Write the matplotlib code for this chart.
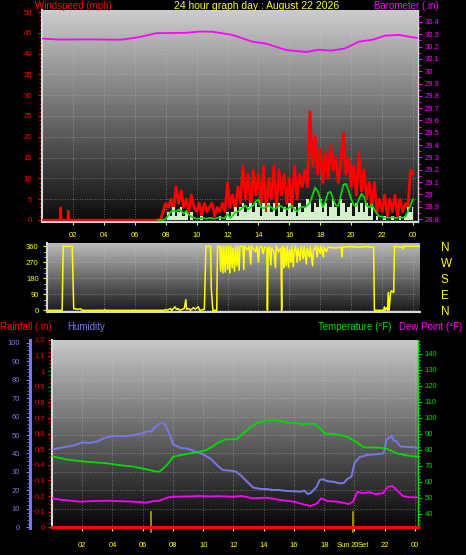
import numpy as np
import matplotlib
matplotlib.use('Agg')
import matplotlib.pyplot as plt
from matplotlib.ticker import MultipleLocator, FixedLocator
from matplotlib.transforms import blended_transform_factory

plt.rcParams['font.family'] = ['Liberation Sans', 'DejaVu Sans']

# ---------------- data ----------------
hour_ticks = [2, 4, 6, 8, 10, 12, 14, 16, 18, 20, 22, 24]
hour_labels = ['02', '04', '06', '08', '10', '12', '14', '16', '18', '20', '22', '00']

# barometer (in)
baro_t = [0, 1.1, 3, 5, 5.2, 6.3, 7.4, 9.3, 10.2, 11.0, 12.3, 13.6, 14.5, 15.8, 17.1, 17.9,
          18.7, 19.6, 20.5, 21.4, 22.2, 23.1, 24.0, 24.3]
baro_v = [30.265, 30.257, 30.258, 30.256, 30.257, 30.277, 30.309, 30.312, 30.322, 30.321,
          30.295, 30.240, 30.224, 30.172, 30.156, 30.175, 30.167, 30.185, 30.240, 30.256,
          30.289, 30.295, 30.275, 30.27]

# windspeed before the wind picked up (mph)
calm_t = [0, 1.15, 1.2, 1.25, 1.65, 1.7, 1.75, 7.4]
calm_v = [0, 0, 3, 0, 0, 2.2, 0, 0]

# 10 minute samples from 07:30 to 24:00
gust_v = [0, 0, 2,
          4, 3, 5, 2, 8, 4,
          7, 3, 5, 2, 6, 3,
          2, 4, 1, 4, 2, 3,
          4, 1, 3, 2, 4, 2,
          9, 3, 6, 2, 8, 4,
          13, 5, 11, 3, 12, 6,
          11, 4, 13, 2, 10, 5,
          13, 3, 12, 6, 11, 4,
          10, 3, 13, 5, 11, 8,
          12, 8, 26, 13, 20, 11,
          17, 9, 16, 10, 18, 12,
          15, 9, 14, 21, 11, 15,
          8, 13, 6, 16, 7, 12,
          5, 9, 3, 9, 2, 5,
          2, 6, 1, 5, 2, 6,
          1, 5, 2, 4, 3, 12,
          11]
avg_v = [0, 0, 0,
         0.3, 1, 2, 2.2, 2, 2.5,
         2.2, 1.5, 2.2, 1.2, 0.8, 0.5,
         0.3, 0.3, 0.5, 0.4, 0.3, 0.5,
         0.4, 0.3, 0.5, 0.6, 0.5, 0.4,
         1.5, 0.5, 1, 1.8, 2, 2.5,
         3, 3.5, 2.5, 3, 3.5, 4.5,
         4.9, 3, 2.8, 3, 3.5, 3,
         2.5, 2.8, 3.5, 3.2, 2.8, 2.5,
         3, 3.4, 2.5, 2, 2.8, 3.2,
         3, 3.5, 4.2, 6, 7.8, 7,
         5, 3, 4.5, 6.5, 6.8, 5,
         3.5, 3.4, 6, 8.5, 8.7, 7,
         5, 3.5, 3.4, 5, 6.3, 5.5,
         3.5, 3, 3.8, 2.5, 1.5, 0.8,
         0.8, 0.5, 0.6, 0.5, 0.7, 0.5,
         0.5, 0.6, 0.5, 0.8, 2, 3.5,
         5]
speed_v = [0, 0, 0,
           0, 2, 1, 3, 1, 2,
           3, 1, 2, 0, 2, 0,
           0, 0, 1, 0, 0, 0,
           0, 0, 0, 1, 0, 0,
           2, 1, 2, 3, 1, 3,
           4, 2, 3, 4, 2, 4,
           3, 1, 4, 2, 4, 2,
           4, 1, 4, 2, 3, 1,
           4, 2, 3, 1, 4, 2,
           3, 5, 4, 2, 4, 3,
           5, 2, 4, 1, 3, 5,
           3, 1, 5, 4, 2, 3,
           4, 1, 4, 2, 4, 2,
           4, 1, 3, 0, 1, 0,
           0, 1, 0, 0, 1, 0,
           0, 1, 0, 1, 3, 2,
           3]
late_t = np.arange(len(gust_v)) / 6.0 + 7.5

# wind direction (deg)
dir_t = [0, 1.3, 1.37, 1.95, 2.05, 2.3, 2.5, 2.6, 4.0, 4.05, 4.1, 7.9, 8.0, 8.1, 8.3, 8.4,
         8.6, 8.7, 8.8, 8.9, 9.2, 9.3, 9.35, 9.5, 9.6, 9.8, 9.9, 10.1, 10.2, 10.5, 10.6,
         10.9, 10.95, 11.0, 11.05, 11.3, 11.35,
         11.5, 11.55, 11.6, 11.7, 11.75, 11.85, 11.9, 12.0, 12.05, 12.15, 12.2, 12.3, 12.35,
         12.45, 12.5, 12.6, 12.65, 12.75, 12.8,
         13.0, 13.05, 13.1, 13.3, 13.4, 13.5, 13.55, 13.8, 13.9, 14.0, 14.05, 14.2, 14.3,
         14.4, 14.55, 14.58, 14.62,
         14.7, 14.8, 14.85, 15.0, 15.1, 15.15, 15.3, 15.45, 15.5, 15.53,
         15.6, 15.65, 15.7, 15.8, 15.85, 15.95, 16.0, 16.1, 16.15, 16.25, 16.3,
         16.4, 16.5, 16.55, 16.7, 16.75, 16.9, 16.95, 17.1, 17.15, 17.3, 17.35, 17.5, 17.55,
         17.7, 17.8, 17.85, 18.0, 18.05, 18.2, 18.25, 18.4,
         18.5, 19.0, 19.35, 19.4, 19.45, 20.0, 20.5, 21.0, 21.45, 21.5, 22.1, 22.15, 22.2,
         22.3, 22.35, 22.4, 22.45, 22.55, 22.6, 22.75, 22.8, 23.3, 23.35, 23.4, 24.0, 24.5]
dir_v = [0, 0, 360, 360, 10, 5, 8, 0, 0, 5, 0, 0, 5, 0, 10, 0,
         20, 5, 10, 0, 10, 60, 5, 10, 0, 15, 5, 20, 0, 5, 360,
         360, 120, 60, 0, 0, 360,
         360, 220, 360, 210, 360, 215, 360, 230, 360, 210, 360, 240, 350,
         220, 360, 250, 360, 225, 360,
         360, 230, 360, 340, 360, 260, 360, 330, 360, 270, 350, 360, 320,
         355, 350, 0, 340,
         360, 255, 350, 330, 240, 360, 330, 350, 0, 300,
         360, 240, 350, 250, 360, 240, 340, 270, 360, 245, 330,
         360, 270, 350, 280, 360, 290, 360, 260, 350, 300, 360, 250, 340,
         360, 300, 360, 320, 360, 300, 355, 330,
         355, 350, 355, 300, 355, 358, 355, 358, 355, 0, 0, 20, 0,
         15, 0, 100, 0, 100, 110, 100, 360, 355, 345, 360, 360, 360]

# humidity (%)
hum_t = [0, 0.5, 1.0, 1.5, 2.0, 2.5, 3.0, 3.5, 4.0, 4.5, 5.0, 5.5, 6.0, 6.3, 6.6, 6.8, 7.1,
         7.3, 7.5, 7.8, 8.0, 8.5, 9.0, 9.5, 10.0, 10.5, 11.0, 11.3, 12.0, 12.2, 12.5, 12.9,
         13.3, 13.8, 14.2, 14.6, 15.0, 15.5, 16.0, 16.4, 16.7, 16.9, 17.1, 17.3, 17.5, 17.7,
         17.9, 18.2, 18.6, 19.0, 19.3, 19.5, 19.8, 20.0, 20.35, 20.6, 20.8, 21.3, 21.9, 22.0,
         22.1, 22.45, 22.6, 22.8, 23.0, 23.2, 23.6, 24.0, 24.2]
hum_v = [42, 43, 43.7, 44.5, 46, 45.8, 46.5, 48.5, 49.5, 49.5, 49.5, 50, 51, 52, 52, 54.2, 56,
         56.7, 55.4, 50, 45, 43, 42.5, 41, 39.5, 37, 33, 31, 30.5, 30, 28, 24.7,
         21.5, 20.8, 20.7, 20.2, 20.2, 19.7, 19.5, 19.3, 19.8, 18, 18.5, 20.2, 22, 25.6,
         26, 25, 24.7, 23.8, 24, 26, 27.4, 34.7, 38.2, 38.5, 39.2, 39.5, 40, 42,
         47.3, 49.5, 47, 46.4, 44, 43.7, 43.5, 43.3, 43]

# temperature (F)
temp_t = [0, 0.5, 1.0, 1.85, 2.5, 3.6, 4.5, 5.4, 6.26, 6.9, 7.1, 7.3, 7.7, 8.0, 8.9, 9.8,
          10.2, 10.6, 10.9, 11.5, 12.2, 12.9, 13.5, 14.2, 14.85, 15.3, 15.7, 16.2, 16.6, 17.3,
          17.7, 18.0, 18.8, 19.5, 20.1, 20.6, 21.5, 22.1, 22.8, 23.5, 24.2]
temp_v = [76.2, 75, 74, 73.1, 72.5, 71.7, 70.5, 69.6, 67.9, 66.5, 66.5, 68, 71.7, 75.8, 77.5, 79,
          80, 82, 84.2, 86.7, 86.7, 92.5, 96.7, 98.7, 98.7, 97.7, 96.7, 97, 96, 96.7,
          93.9, 90.4, 89.8, 88.3, 85.2, 81.7, 81.5, 81, 77.9, 76.5, 75.8]

# dew point (F)
dew_t = [0, 0.5, 1.0, 1.85, 2.5, 3.6, 4.5, 5.4, 6.26, 6.7, 7.0, 7.6, 8.0, 9.0, 9.8, 10.5,
         11.0, 12.0, 12.5, 13.3, 14.2, 15.1, 16.0, 16.6, 17.1, 17.5, 17.8, 18.2, 18.9, 19.6,
         19.9, 20.2, 20.5, 21.0, 21.4, 21.9, 22.2, 22.5, 22.8, 23.2, 23.6, 24.2]
dew_v = [49.8, 49, 48.5, 47.7, 48, 48.3, 48, 47.7, 47.1, 48.1, 48, 50.2, 50.8, 51, 51.25, 51,
         51.2, 50.8, 51.3, 49.8, 50.2, 48.75, 47.7, 46.1, 45, 46.5, 49.8, 48.1, 47.7, 46.25,
         47.7, 54, 53, 53.5, 52.5, 53, 57.1, 57.5, 55, 51.25, 50.5, 50.4]

# rainfall (in)
rain_t = [0, 24.2]
rain_v = [0, 0]

sunrise = 6.55
sunset = 19.87

W, H = 466.0, 555.0
RED = '#ff0000'
YEL = '#ffff00'
MAG = '#ff00ff'
GRN = '#00dd00'
BLU = '#7878e8'
BORDER = '#d8d8d8'


def rect(x0, y0, x1, y1):
    return [x0 / W, 1 - y1 / H, (x1 - x0) / W, (y1 - y0) / H]


def gradient(ax, top, bottom):
    g = np.linspace(top, bottom, 256).reshape(-1, 1)
    ax.imshow(g, cmap='gray', vmin=0, vmax=1, aspect='auto', extent=[0, 1, 0, 1],
              transform=ax.transAxes, zorder=0, interpolation='bilinear')


def grid(ax, axis='both'):
    ax.grid(True, axis=axis, color='#d0d0d0', linestyle=(0, (1, 2)), linewidth=0.6, alpha=0.55)


def clean(ax):
    for s in ax.spines.values():
        s.set_visible(False)


fig = plt.figure(figsize=(W / 100, H / 100), dpi=100, facecolor='black')

fig.text(35 / W, 1 - 6 / H, 'Windspeed (mph)', color=RED, fontsize=7, va='center', ha='left')
fig.text(257 / W, 1 - 6 / H, '24 hour graph day : August 22 2026', color=YEL, fontsize=7.5,
         va='center', ha='center')
fig.text(439 / W, 1 - 6 / H, 'Barometer (.in)', color=MAG, fontsize=7, va='center', ha='right')

# ---------------- wind / barometer ----------------
ax1 = fig.add_axes(rect(42, 10, 418, 222))
gradient(ax1, 0.80, 0.04)
ax1.set_xlim(0, 24.32)
ax1.set_ylim(-0.5, 50.5)
ax1.plot(calm_t, calm_v, color=RED, lw=1.6, zorder=3)
ax1.plot(late_t, gust_v, color=RED, lw=2.0, zorder=3)
ax1.fill_between(late_t, speed_v, step='mid', color='#d4f0cc', lw=0, zorder=4)
ax1.plot([0, 7.5], [0, 0], color='#c8f0c0', lw=1.0, zorder=2)
ax1.plot(late_t, avg_v, color='#00e000', lw=1.2, zorder=5)
ax1.xaxis.set_major_locator(FixedLocator(hour_ticks))
ax1.set_xticklabels(hour_labels)
ax1.yaxis.set_major_locator(MultipleLocator(5))
ax1.yaxis.set_minor_locator(MultipleLocator(1))
ax1.tick_params(axis='x', colors=YEL, labelsize=5.5, length=2, pad=5)
ax1.tick_params(axis='y', which='both', colors=RED, labelsize=5.5, length=3, pad=4)
ax1.tick_params(axis='y', which='minor', length=2)
grid(ax1)
clean(ax1)
for s in ['left', 'bottom']:
    ax1.spines[s].set_visible(True)
    ax1.spines[s].set_color(BORDER)
    ax1.spines[s].set_linewidth(1.5)

ax1b = ax1.twinx()
ax1b.set_ylim(28.776, 30.497)
ax1b.plot(baro_t, baro_v, color=MAG, lw=1.3, zorder=6)
ax1b.yaxis.set_minor_locator(MultipleLocator(0.05))
baro_ticks = np.round(np.arange(28.8, 30.45, 0.1), 1)
ax1b.set_yticks(baro_ticks)
ax1b.set_yticklabels(['%g' % v for v in baro_ticks])
ax1b.tick_params(axis='y', which='both', colors=MAG, labelsize=5.5, length=3, pad=2)
ax1b.tick_params(axis='y', which='minor', length=2)
clean(ax1b)
ax1b.spines['right'].set_visible(True)
ax1b.spines['right'].set_color(BORDER)
ax1b.spines['right'].set_linewidth(1.0)

# ---------------- wind direction ----------------
ax2 = fig.add_axes(rect(47, 243, 420, 312))
gradient(ax2, 0.74, 0.10)
ax2.set_xlim(0.32, 24.45)
ax2.set_ylim(-9.6, 378.6)
ax2.plot(dir_t, dir_v, color=YEL, lw=1.1, zorder=3)
ax2.xaxis.set_major_locator(FixedLocator(hour_ticks))
ax2.set_xticklabels([])
ax2.yaxis.set_major_locator(MultipleLocator(90))
ax2.yaxis.set_minor_locator(MultipleLocator(30))
ax2.tick_params(axis='x', length=0)
ax2.tick_params(axis='y', which='both', colors=YEL, labelsize=5.5, length=3, pad=3)
ax2.tick_params(axis='y', which='minor', length=2)
grid(ax2)
clean(ax2)
for s in ['left', 'bottom']:
    ax2.spines[s].set_visible(True)
    ax2.spines[s].set_color(BORDER)
    ax2.spines[s].set_linewidth(1.5)

ax2b = ax2.twinx()
ax2b.set_ylim(-9.6, 378.6)
ax2b.set_yticks([0, 90, 180, 270, 360])
ax2b.set_yticklabels(['N', 'E', 'S', 'W', 'N'])
ax2b.tick_params(axis='y', colors=YEL, labelsize=8.5, length=0, pad=15)
clean(ax2b)

# ---------------- rain / humidity / temperature ----------------
fig.text(0 / W, 1 - 326.5 / H, 'Rainfall (.in)', color=RED, fontsize=7, va='center', ha='left')
fig.text(67 / W, 1 - 326.5 / H, 'Humidity', color=BLU, fontsize=7, va='center', ha='left')
fig.text(391 / W, 1 - 326.5 / H, 'Temperature (°F)', color=GRN, fontsize=7, va='center', ha='right')
fig.text(462 / W, 1 - 326.5 / H, 'Dew Point (°F)', color=MAG, fontsize=7, va='center', ha='right')

ax3 = fig.add_axes(rect(52, 340, 418, 528))
gradient(ax3, 0.78, 0.02)
ax3.set_xlim(0, 24.2)
ax3.set_ylim(-0.005, 1.195)
ax3.xaxis.set_major_locator(FixedLocator(hour_ticks))
ax3.set_xticklabels(hour_labels)
ax3.yaxis.set_minor_locator(MultipleLocator(0.025))
rain_ticks = np.round(np.arange(0, 1.25, 0.1), 1)
ax3.set_yticks(rain_ticks)
ax3.set_yticklabels(['%g' % v for v in rain_ticks])
ax3.tick_params(axis='x', colors=YEL, labelsize=5.5, length=2, pad=8)
ax3.tick_params(axis='y', which='both', colors=RED, labelsize=5.5, length=3, pad=2)
ax3.tick_params(axis='y', which='minor', length=2)
ax3.grid(True, axis='x', color='#d0d0d0', linestyle=(0, (1, 2)), linewidth=0.6, alpha=0.55)
clean(ax3)
for s in ['left', 'bottom']:
    ax3.spines[s].set_visible(True)
    ax3.spines[s].set_color(BORDER)
    ax3.spines[s].set_linewidth(1.5)
trans = blended_transform_factory(ax3.transData, ax3.transAxes)
for t in [sunrise, sunset]:
    ax3.plot([t, t], [-0.02, 0.085], color='#b0a800', lw=1.2, transform=trans,
             clip_on=False, zorder=4)
# "Sunset" label sits around the 20 tick label
ax3.text(19.72, -0.092, 'Sun', color=YEL, fontsize=5.5, ha='right', va='center',
         transform=trans)
ax3.text(20.22, -0.092, 'Set', color=YEL, fontsize=5.5, ha='left', va='center',
         transform=trans)

ax3h = ax3.twinx()
ax3h.set_ylim(-0.4, 101.5)
ax3h.yaxis.tick_left()
ax3h.yaxis.set_label_position('left')
clean(ax3h)
ax3h.spines['left'].set_visible(True)
ax3h.spines['left'].set_position(('outward', 16))
ax3h.spines['left'].set_color(BLU)
ax3h.spines['left'].set_linewidth(2.2)
ax3h.yaxis.set_major_locator(MultipleLocator(10))
ax3h.yaxis.set_minor_locator(MultipleLocator(2))
ax3h.tick_params(axis='y', which='both', colors=BLU, labelsize=5.5, length=3, pad=4)
ax3h.tick_params(axis='y', which='minor', length=2)
ax3h.grid(True, axis='y', color='#d0d0d0', linestyle=(0, (1, 2)), linewidth=0.6, alpha=0.55)
ax3h.plot(hum_t, hum_v, color=BLU, lw=1.4, zorder=3)

ax3t = ax3.twinx()
ax3t.set_ylim(31.25, 148.75)
clean(ax3t)
ax3t.spines['right'].set_visible(True)
ax3t.spines['right'].set_color(GRN)
ax3t.spines['right'].set_linewidth(1.0)
ax3t.yaxis.set_major_locator(FixedLocator([40, 50, 60, 70, 80, 90, 100, 110, 120, 130, 140]))
ax3t.yaxis.set_minor_locator(MultipleLocator(2))
ax3t.tick_params(axis='y', which='both', colors=GRN, labelsize=5.5, length=3, pad=2)
ax3t.tick_params(axis='y', which='minor', length=1.5)
ax3t.plot(temp_t, temp_v, color=GRN, lw=1.3, zorder=3)
ax3t.plot(dew_t, dew_v, color=MAG, lw=1.3, zorder=3)

ax3r = ax3.twinx()
ax3r.set_ylim(-0.005, 1.195)
clean(ax3r)
ax3r.set_yticks([])
ax3r.plot(rain_t, rain_v, color=RED, lw=2.2, zorder=5, clip_on=False)

fig.savefig('out.png', dpi=100, facecolor='black')
